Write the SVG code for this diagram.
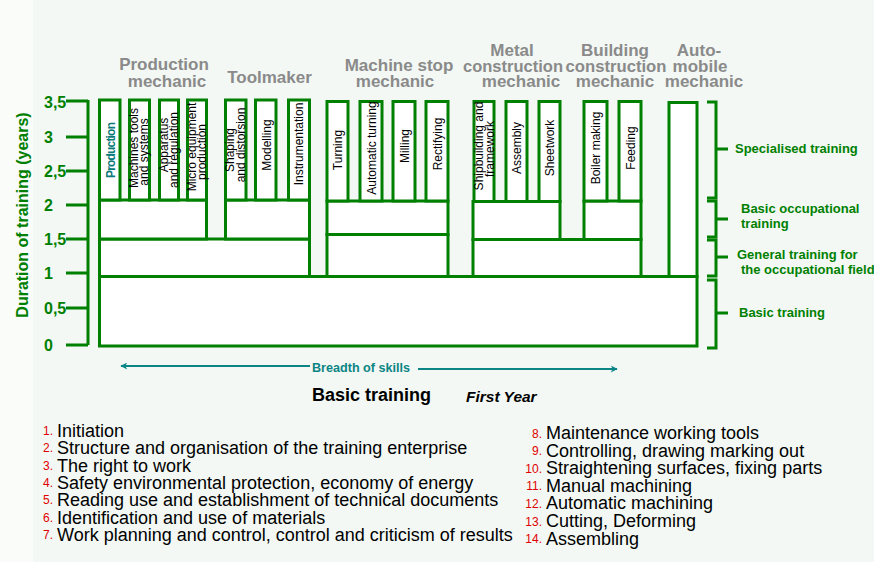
<svg xmlns="http://www.w3.org/2000/svg" width="874" height="562" viewBox="0 0 874 562">
<defs>
<style>
.b{fill:#fff;stroke:#008000;stroke-width:3}
.ln{fill:none;stroke:#008000;stroke-width:3}
.hd{font-family:'Liberation Sans',Arial,sans-serif;font-weight:bold;font-size:17px;fill:#8a8a8a;text-anchor:middle}
.cl{font-family:'Liberation Sans',Arial,sans-serif;font-size:12px;fill:#000;text-anchor:middle}
.ax{font-family:'Liberation Sans',Arial,sans-serif;font-weight:bold;font-size:16px;fill:#008000}
.br{font-family:'Liberation Sans',Arial,sans-serif;font-weight:bold;font-size:13px;fill:#008000}
.li{font-family:'Liberation Sans',Arial,sans-serif;font-size:18px;fill:#000}
.nm{font-family:'Liberation Sans',Arial,sans-serif;font-size:12px;fill:#e00000}
.tl{stroke:#0b8585;stroke-width:2;fill:none}
</style>
<marker id="ah" viewBox="0 0 10 10" refX="9" refY="5" markerWidth="9" markerHeight="7" orient="auto" markerUnits="userSpaceOnUse">
<path d="M0,0 L10,5 L0,10 L3,5 z" fill="#0b8585"/>
</marker>
</defs>
<rect x="0" y="0" width="874" height="562" fill="#f3f8f4"/>
<rect x="0" y="0" width="33" height="562" fill="#fafcfa"/>

<g id="axis">
<path class="ln" d="M88,100 V345 M66,101 H88 M66,137 H88 M66,171 H88 M66,205 H88 M66,239 H88 M66,273 H88 M66,308 H88 M66,345 H88"/>
<text class="ax" x="44" y="108">3,5</text>
<text class="ax" x="44" y="143">3</text>
<text class="ax" x="44" y="177">2,5</text>
<text class="ax" x="44" y="211">2</text>
<text class="ax" x="44" y="245">1,5</text>
<text class="ax" x="44" y="279">1</text>
<text class="ax" x="44" y="314">0,5</text>
<text class="ax" x="44" y="351">0</text>
<text class="ax" font-size="17.5" text-anchor="middle" transform="translate(28,215) rotate(-90)">Duration of training (years)</text>
</g>

<g id="basic-training">
<rect class="b" x="99.5" y="276.5" width="597.5" height="69.5"/>
</g>

<g id="production-mechanic">
<rect class="b" x="99.5" y="239" width="210" height="37.5"/>
<rect class="b" x="99.5" y="200" width="107" height="39"/>
<rect class="b" x="99.5" y="100" width="20.5" height="100"/>
<rect class="b" x="129.5" y="100" width="20" height="100"/>
<rect class="b" x="159.5" y="100" width="19" height="100"/>
<rect class="b" x="187.5" y="100" width="19" height="100"/>
<text class="hd" x="164" y="70">Production</text>
<text class="hd" x="167" y="87">mechanic</text>
<text class="cl" font-weight="bold" font-size="11.5" fill="#0a7a7a" style="fill:#0a7a7a" textLength="56" transform="translate(114.5,150) rotate(-90)">Production</text>
<text class="cl" transform="translate(138,148) rotate(-90)">Machines tools</text>
<text class="cl" transform="translate(147.5,152) rotate(-90)">and systems</text>
<text class="cl" transform="translate(167.5,145) rotate(-90)">Apparatus</text>
<text class="cl" transform="translate(177.5,150) rotate(-90)">and regulation</text>
<text class="cl" transform="translate(196,147) rotate(-90)">Micro equipment</text>
<text class="cl" transform="translate(205.5,152) rotate(-90)">production</text>
</g>

<g id="toolmaker">
<rect class="b" x="225.5" y="200" width="84" height="39"/>
<rect class="b" x="225.5" y="100" width="20.5" height="100"/>
<rect class="b" x="255.5" y="100" width="20.5" height="100"/>
<rect class="b" x="288.5" y="100" width="21" height="100"/>
<text class="hd" x="269.5" y="83">Toolmaker</text>
<text class="cl" transform="translate(234,150) rotate(-90)">Shaping</text>
<text class="cl" transform="translate(244.5,145) rotate(-90)">and distorsion</text>
<text class="cl" transform="translate(270.5,145) rotate(-90)">Modelling</text>
<text class="cl" transform="translate(302.5,144) rotate(-90)">Instrumentation</text>
</g>

<g id="machine-stop-mechanic">
<rect class="b" x="327" y="234.5" width="121" height="42"/>
<rect class="b" x="327" y="201" width="121" height="33.5"/>
<rect class="b" x="327" y="101.5" width="21" height="99.5"/>
<rect class="b" x="360" y="101.5" width="22" height="99.5"/>
<rect class="b" x="393" y="101.5" width="22" height="99.5"/>
<rect class="b" x="426" y="101.5" width="22" height="99.5"/>
<text class="hd" x="399" y="71">Machine stop</text>
<text class="hd" x="395" y="87">mechanic</text>
<text class="cl" transform="translate(341.5,150) rotate(-90)">Turning</text>
<text class="cl" transform="translate(375.5,148) rotate(-90)">Automatic turning</text>
<text class="cl" transform="translate(408.5,146) rotate(-90)">Milling</text>
<text class="cl" transform="translate(441.5,144) rotate(-90)">Rectifying</text>
</g>

<g id="metal-construction-mechanic">
<rect class="b" x="473" y="239.5" width="168" height="37"/>
<rect class="b" x="473" y="201.5" width="87" height="38"/>
<rect class="b" x="474" y="101.5" width="20" height="100"/>
<rect class="b" x="506" y="101.5" width="21" height="100"/>
<rect class="b" x="539" y="101.5" width="21" height="100"/>
<text class="hd" x="512" y="56">Metal</text>
<text class="hd" x="513" y="72" textLength="100" lengthAdjust="spacingAndGlyphs">construction</text>
<text class="hd" x="521" y="87">mechanic</text>
<text class="cl" transform="translate(482.5,146) rotate(-90)">Shipbuilding and</text>
<text class="cl" transform="translate(493.5,149) rotate(-90)">framework</text>
<text class="cl" transform="translate(520.5,148) rotate(-90)">Assembly</text>
<text class="cl" transform="translate(554,148) rotate(-90)">Sheetwork</text>
</g>

<g id="building-construction-mechanic">
<rect class="b" x="584" y="201" width="57" height="38.5"/>
<rect class="b" x="584" y="101.5" width="23" height="99.5"/>
<rect class="b" x="619" y="101.5" width="22" height="99.5"/>
<text class="hd" x="615" y="56">Building</text>
<text class="hd" x="616" y="72" textLength="101" lengthAdjust="spacingAndGlyphs">construction</text>
<text class="hd" x="615" y="87">mechanic</text>
<text class="cl" transform="translate(600,148) rotate(-90)">Boiler making</text>
<text class="cl" transform="translate(634.5,148) rotate(-90)">Feeding</text>
</g>

<g id="automobile-mechanic">
<rect class="b" x="669" y="102.5" width="28" height="174"/>
<text class="hd" x="699" y="56">Auto-</text>
<text class="hd" x="700" y="72">mobile</text>
<text class="hd" x="704" y="87">mechanic</text>
</g>

<g id="braces">
<path class="ln" d="M707,102 H716 V198 H707 M716,149 H728"/>
<path class="ln" d="M707,201 H716 V237 H707 M716,219 H728"/>
<path class="ln" d="M707,240 H716 V276 H707 M716,257 H728"/>
<path class="ln" d="M707,280 H716 V348 H707 M716,313 H728"/>
<text class="br" x="735" y="153">Specialised training</text>
<text class="br" x="741" y="213">Basic occupational</text>
<text class="br" x="741" y="228">training</text>
<text class="br" x="737" y="259">General training for</text>
<text class="br" x="741" y="274">the occupational field</text>
<text class="br" x="739" y="317">Basic training</text>
</g>

<g id="breadth">
<line class="tl" x1="310" y1="366" x2="121" y2="366" marker-end="url(#ah)"/>
<line class="tl" x1="418" y1="369" x2="617" y2="369" marker-end="url(#ah)"/>
<text font-family="'Liberation Sans',Arial,sans-serif" font-weight="bold" font-size="12.6" fill="#0b8585" x="312" y="372">Breadth of skills</text>
<text font-family="'Liberation Sans',Arial,sans-serif" font-weight="bold" font-size="18" fill="#000" x="312" y="401">Basic training</text>
<text font-family="'Liberation Sans',Arial,sans-serif" font-weight="bold" font-style="italic" font-size="15.5" fill="#000" x="466" y="402">First Year</text>
</g>

<g id="list-left">
<text class="nm" x="43" y="435">1.</text><text class="li" x="57" y="437">Initiation</text>
<text class="nm" x="43" y="452.3">2.</text><text class="li" x="57" y="454.3">Structure and organisation of the training enterprise</text>
<text class="nm" x="43" y="469.6">3.</text><text class="li" x="57" y="471.6">The right to work</text>
<text class="nm" x="43" y="486.9">4.</text><text class="li" x="57" y="488.9">Safety environmental protection, economy of energy</text>
<text class="nm" x="43" y="504.2">5.</text><text class="li" x="57" y="506.2">Reading use and establishment of technical documents</text>
<text class="nm" x="43" y="521.5">6.</text><text class="li" x="57" y="523.5">Identification and use of materials</text>
<text class="nm" x="43" y="538.8">7.</text><text class="li" x="57" y="540.8">Work planning and control, control and criticism of results</text>
</g>

<g id="list-right">
<text class="nm" x="542" y="437.5" text-anchor="end">8.</text><text class="li" x="546" y="439">Maintenance working tools</text>
<text class="nm" x="542" y="455" text-anchor="end">9.</text><text class="li" x="546" y="456.6">Controlling, drawing marking out</text>
<text class="nm" x="542" y="472.7" text-anchor="end">10.</text><text class="li" x="546" y="474.2">Straightening surfaces, fixing parts</text>
<text class="nm" x="542" y="490.3" text-anchor="end">11.</text><text class="li" x="546" y="491.8">Manual machining</text>
<text class="nm" x="542" y="507.9" text-anchor="end">12.</text><text class="li" x="546" y="509.4">Automatic machining</text>
<text class="nm" x="542" y="525.5" text-anchor="end">13.</text><text class="li" x="546" y="527">Cutting, Deforming</text>
<text class="nm" x="542" y="543.1" text-anchor="end">14.</text><text class="li" x="546" y="544.6">Assembling</text>
</g>
</svg>
